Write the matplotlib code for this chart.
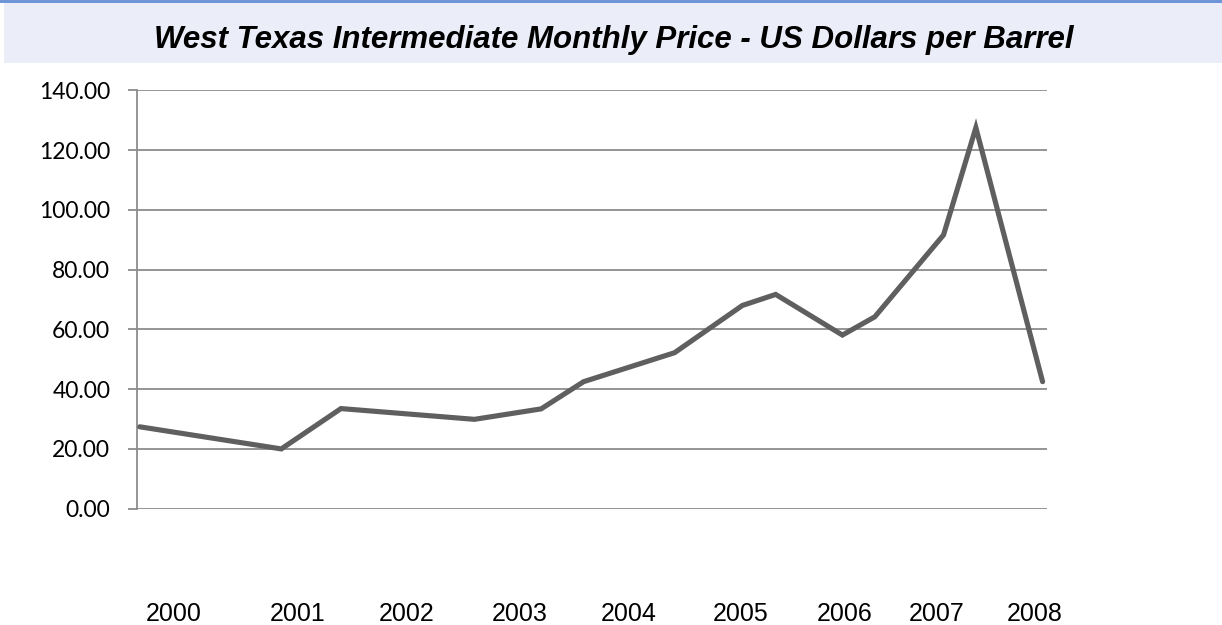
import matplotlib.pyplot as plt
from matplotlib.patches import Rectangle

# Dados (ano decimal, US$/barril)
anos = [2000.03, 2001.43, 2002.02, 2003.34, 2004.00, 2004.42, 2005.32,
        2005.99, 2006.32, 2006.98, 2007.30, 2007.98, 2008.30, 2008.96]
precos = [27.4, 20.0, 33.5, 29.9, 33.4, 42.5, 52.2,
          68.0, 71.7, 58.1, 64.2, 91.6, 127.5, 42.5]

# Rótulos do eixo x (posições como aparecem no gráfico original)
rotulos_x = ["2000", "2001", "2002", "2003", "2004", "2005", "2006", "2007", "2008"]
pos_rotulos_x = [2000.37, 2001.59, 2002.67, 2003.79, 2004.87, 2005.97, 2007.00, 2007.91, 2008.88]
ticks_y = [0, 20, 40, 60, 80, 100, 120, 140]

titulo = "West Texas Intermediate Monthly Price - US Dollars per Barrel"

fig = plt.figure(figsize=(12.22, 6.25), dpi=100)

# Faixa do título com linha azul no topo
fig.patches.append(Rectangle((0.003, 0.90), 0.997, 0.095, transform=fig.transFigure,
                             facecolor="#ebeef9", edgecolor="none", zorder=0))
fig.patches.append(Rectangle((0.0, 0.995), 1.0, 0.005, transform=fig.transFigure,
                             facecolor="#6f94d8", edgecolor="none", zorder=1))
fig.text(0.5025, 0.923, titulo, ha="center", va="baseline",
         fontsize=22.5, fontweight="bold", fontstyle="italic", family="Liberation Sans")

ax = fig.add_axes([0.1119, 0.1861, 0.7446, 0.6694])
ax.plot(anos, precos, color="#5f5f5f", linewidth=3.7, solid_joinstyle="miter",
        solid_capstyle="round", zorder=3)

ax.set_xlim(2000, 2009)
ax.set_ylim(0, 140)
ax.set_yticks(ticks_y)
ax.set_yticklabels([f"{v:.2f}" for v in ticks_y], family="Lato", fontsize=16.5)
ax.set_xticks(pos_rotulos_x)
ax.set_xticklabels(rotulos_x, family="Liberation Sans", fontsize=18)

ax.grid(axis="y", color="#8c8c8c", linewidth=1.3, zorder=1)
ax.tick_params(axis="y", length=6.5, width=1.3, color="#8c8c8c", pad=12.5)
ax.tick_params(axis="x", length=0, pad=67)

for lado in ["top", "right", "bottom"]:
    ax.spines[lado].set_visible(False)
ax.spines["left"].set_color("#8c8c8c")
ax.spines["left"].set_linewidth(1.3)

fig.savefig("out.png", dpi=100)
